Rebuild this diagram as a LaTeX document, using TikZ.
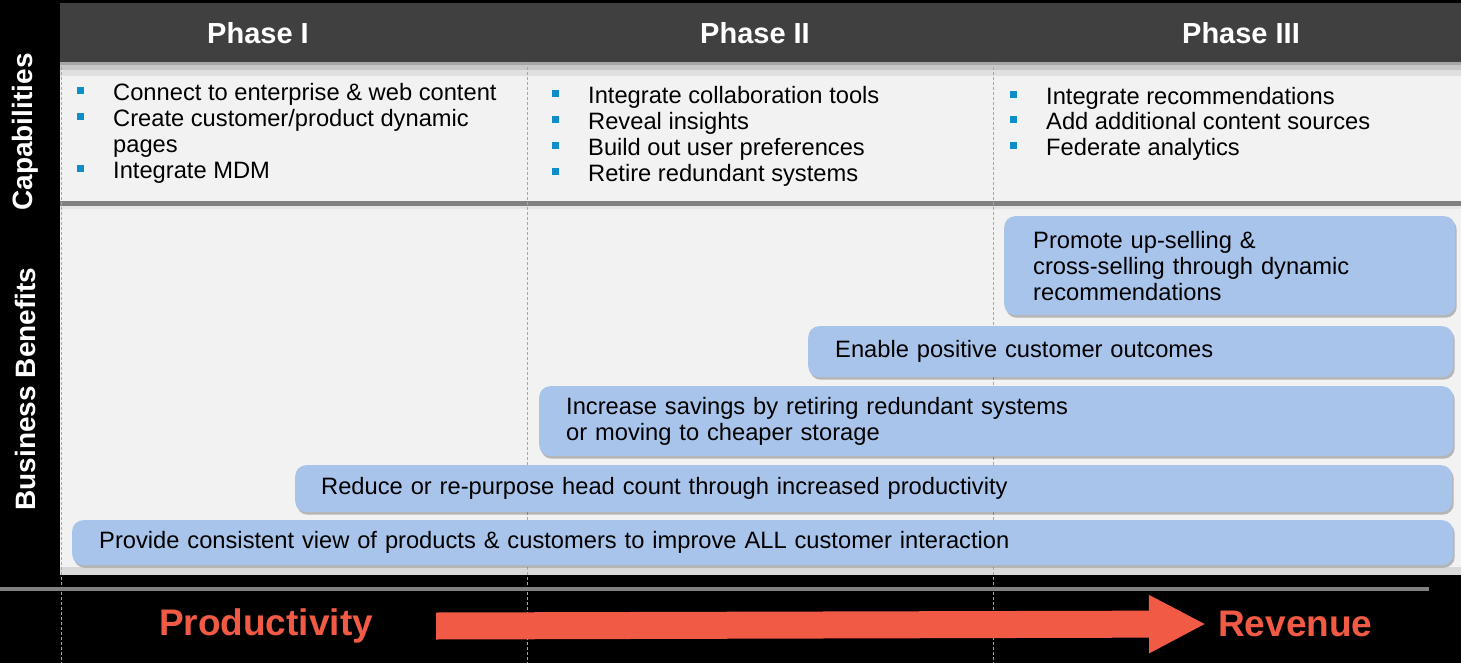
\documentclass[tikz,border=0pt]{standalone}
\usepackage{fontspec}
\setmainfont{Liberation Sans}
\usetikzlibrary{shadows,arrows.meta}
\definecolor{hdr}{HTML}{404040}
\definecolor{panel}{HTML}{F2F2F2}
\definecolor{barblue}{HTML}{A9C4EB}
\definecolor{bul}{HTML}{0E8DCB}
\definecolor{accent}{HTML}{F15A45}
\definecolor{sep}{HTML}{808080}
\newcommand{\mystrut}{\rule{0pt}{18pt}}
\tikzset{
  bodytext/.style={font=\fontsize{23.7}{26}\selectfont, text=black},
  itemtext/.style={bodytext, anchor=north west, inner sep=0pt, align=left},
  bulletsq/.style={fill=bul, minimum size=7pt, inner sep=0pt, anchor=center},
  phasetitle/.style={font=\bfseries\fontsize{29}{33}\selectfont, text=white, inner sep=0pt},
  sidelabel/.style={font=\bfseries\fontsize{28}{32}\selectfont, text=white, rotate=90, inner sep=0pt},
  benefit/.style={bodytext, fill=barblue, rounded corners=11pt, anchor=north west,
    inner ysep=0pt, align=left,
    drop shadow={shadow xshift=1.5pt, shadow yshift=-2.5pt, opacity=0.25, fill=black}},
  divider/.style={dashed, draw=gray!70, line width=0.8pt, dash pattern=on 3pt off 2pt},
  endlabel/.style={font=\bfseries\fontsize{37}{40}\selectfont, text=accent, inner sep=0pt},
  bigarrow/.style={draw=accent, line width=27pt, -{Triangle[length=57pt,width=54pt]}},
}
\begin{document}
\begin{tikzpicture}[x=1pt,y=-1pt]
% background
\fill[black] (0,0) rectangle (1461,663);
\useasboundingbox (0,0) rectangle (1461,663);
% header
\fill[hdr] (60,3) rectangle (1461,62);
% panel
\fill[panel] (60,62) rectangle (1461,575);
\fill[black!35] (60,62) rectangle (1461,65);
\fill[black!22] (60,65) rectangle (1461,70);
\fill[black!12] (60,70) rectangle (1461,76);
% bottom shadow of panel
\fill[black!15] (60,567) rectangle (1461,575);
% separator between capabilities and benefits
\fill[sep] (60,201) rectangle (1461,206);
\fill[black!10] (60,206) rectangle (1461,209);
% dashed phase dividers
\draw[divider] (61,62) -- (61,663);
\draw[divider] (527,62) -- (527,663);
\draw[divider] (993,62) -- (993,663);
% bottom gray rule
\fill[sep] (0,587) rectangle (1429,591);

% header titles
\node[phasetitle] (p1) at (258,33) {Phase I};
\node[phasetitle] (p2) at (755,33) {Phase II};
\node[phasetitle] (p3) at (1241,33) {Phase III};

% side labels
\node[sidelabel] (cap) at (25,132) {Capabilities};
\node[sidelabel] (bb) at (25,389) {Business Benefits};

% Phase I capabilities
\node[bulletsq] (b11) at (80,91) {};
\node[itemtext] (c11) at (113,82) {\mystrut Connect to enterprise \& web content};
\node[bulletsq] (b12) at (80,117) {};
\node[itemtext] (c12) at (113,108) {\mystrut Create customer/product dynamic\\pages};
\node[bulletsq] (b13) at (80,169) {};
\node[itemtext] (c13) at (113,160) {\mystrut Integrate MDM};

% Phase II capabilities
\node[bulletsq] (b21) at (555,94) {};
\node[itemtext] (c21) at (588,85) {\mystrut Integrate collaboration tools};
\node[bulletsq] (b22) at (555,120) {};
\node[itemtext] (c22) at (588,111) {\mystrut Reveal insights};
\node[bulletsq] (b23) at (555,146) {};
\node[itemtext] (c23) at (588,137) {\mystrut Build out user preferences};
\node[bulletsq] (b24) at (555,172) {};
\node[itemtext] (c24) at (588,163) {\mystrut Retire redundant systems};

% Phase III capabilities
\node[bulletsq] (b31) at (1013,95) {};
\node[itemtext] (c31) at (1046,86) {\mystrut Integrate recommendations};
\node[bulletsq] (b32) at (1013,120) {};
\node[itemtext] (c32) at (1046,111) {\mystrut Add additional content sources};
\node[bulletsq] (b33) at (1013,146) {};
\node[itemtext] (c33) at (1046,137) {\mystrut Federate analytics};

% business benefit bars
\node[benefit, inner xsep=29pt, minimum height=99pt, text width=393pt] (bar1) at (1004,216)
  {Promote up-selling \&\\cross-selling through dynamic\\recommendations};
\node[benefit, inner xsep=27pt, minimum height=51pt, text width=591pt] (bar2) at (808,326)
  {Enable positive customer outcomes};
\node[benefit, inner xsep=27pt, minimum height=70pt, text width=860pt] (bar3) at (539,386)
  {Increase savings by retiring redundant systems\\or moving to cheaper storage};
\node[benefit, inner xsep=26pt, minimum height=47pt, text width=1105pt] (bar4) at (295,465)
  {Reduce or re-purpose head count through increased productivity};
\node[benefit, inner xsep=27pt, minimum height=45pt, text width=1327pt] (bar5) at (72,520)
  {Provide consistent view of products \& customers to improve ALL customer interaction};

% bottom: productivity -> revenue
\node[endlabel] (prod) at (266,626) {Productivity};
\node[endlabel, anchor=west] (rev) at (1218,624) {Revenue};
\draw[bigarrow] ([xshift=63pt]prod.east) -- ([xshift=-12pt]rev.west);
\end{tikzpicture}
\end{document}
